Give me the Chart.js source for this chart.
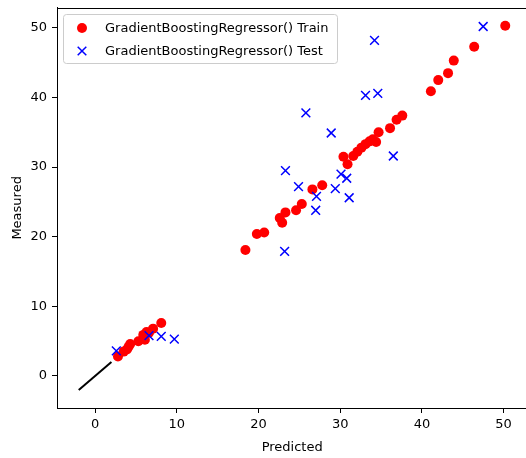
<!DOCTYPE html>
<html>
<head>
<meta charset="utf-8">
<script src="https://cdn.jsdelivr.net/npm/chart.js@4.4.1/dist/chart.umd.min.js"></script>
<style>
  html, body { margin: 0; padding: 0; background: #fff; overflow: hidden; width: 526px; height: 458px; }
  #wrap { width: 535px; height: 458px; }
</style>
</head>
<body>
<div id="wrap"><canvas id="c" width="535" height="458"></canvas></div>
<script>
// ---- data ----
const trainLabel = "GradientBoostingRegressor() Train";
const testLabel = "GradientBoostingRegressor() Test";

const trainPred = [2.8, 3.5, 3.9, 4.1, 4.3, 5.3, 5.9, 6.1, 6.3, 6.6, 7.1, 8.1,
  18.4, 19.8, 20.7, 22.6, 22.9, 23.3, 24.6, 25.3, 26.6, 27.8,
  30.4, 30.9, 31.6, 32.1, 32.6, 33.1, 33.6, 34.0, 34.4, 34.7,
  36.1, 36.9, 37.6, 41.1, 42.0, 43.2, 43.9, 46.4, 50.2];
const trainMeas = [2.8, 3.5, 3.8, 4.2, 4.6, 5.0, 5.9, 5.2, 6.3, 6.2, 6.8, 7.6,
  18.1, 20.4, 20.6, 22.7, 22.0, 23.5, 23.8, 24.7, 26.8, 27.4,
  31.5, 30.4, 31.6, 32.2, 32.8, 33.3, 33.7, 34.0, 33.6, 35.0,
  35.6, 36.8, 37.4, 40.9, 42.5, 43.5, 45.3, 47.3, 50.3];

const testPred = [2.6, 6.6, 8.1, 9.7, 23.2, 23.3, 24.9, 25.8, 27.1, 27.0,
  28.9, 29.4, 30.1, 30.8, 31.1, 33.1, 34.2, 34.6, 36.5, 47.5];
const testMeas = [3.6, 5.8, 5.7, 5.3, 17.9, 29.5, 27.2, 37.8, 25.8, 23.8,
  34.9, 26.9, 29.0, 28.4, 25.6, 40.3, 48.2, 40.6, 31.6, 50.2];

const lineX = [-2, 2];
const lineY = [-2, 2];

const xTicks = [0, 10, 20, 30, 40, 50];
const yTicks = [0, 10, 20, 30, 40, 50];

const zip = (xs, ys) => xs.map((x, i) => ({ x: x, y: ys[i] }));

const FONT = "'DejaVu Sans', sans-serif";
Chart.defaults.font.family = FONT;
Chart.defaults.font.size = 13;
Chart.defaults.color = '#000';

const framePlugin = {
  id: 'frame',
  afterDatasetsDraw(chart) {
    const { ctx, chartArea: a } = chart;
    ctx.save();
    ctx.strokeStyle = '#000';
    ctx.lineWidth = 1;
    ctx.strokeRect(Math.round(a.left) + 0.5, Math.round(a.top) + 0.5,
                   Math.round(a.right - a.left), Math.round(a.bottom - a.top));
    ctx.restore();
  },
  afterDraw(chart) {
    const { ctx } = chart;
    const ds = chart.data.datasets;
    ctx.save();
    const bx = 63.5, by = 14.5, bw = 274, bh = 49, r = 3;
    ctx.beginPath();
    ctx.moveTo(bx + r, by);
    ctx.lineTo(bx + bw - r, by);
    ctx.arcTo(bx + bw, by, bx + bw, by + r, r);
    ctx.lineTo(bx + bw, by + bh - r);
    ctx.arcTo(bx + bw, by + bh, bx + bw - r, by + bh, r);
    ctx.lineTo(bx + r, by + bh);
    ctx.arcTo(bx, by + bh, bx, by + bh - r, r);
    ctx.lineTo(bx, by + r);
    ctx.arcTo(bx, by, bx + r, by, r);
    ctx.closePath();
    ctx.fillStyle = 'rgba(255,255,255,0.8)';
    ctx.fill();
    ctx.strokeStyle = '#cccccc';
    ctx.lineWidth = 1;
    ctx.stroke();
    const mx = 82;
    ctx.fillStyle = ds[0].backgroundColor;
    ctx.beginPath();
    ctx.arc(mx, 28, 5, 0, Math.PI * 2);
    ctx.fill();
    const s = 4.3;
    ctx.strokeStyle = ds[1].borderColor;
    ctx.lineWidth = 1.5;
    ctx.beginPath();
    ctx.moveTo(mx - s, 51 - s); ctx.lineTo(mx + s, 51 + s);
    ctx.moveTo(mx - s, 51 + s); ctx.lineTo(mx + s, 51 - s);
    ctx.stroke();
    ctx.fillStyle = '#000';
    ctx.font = "13px " + FONT;
    ctx.textBaseline = 'middle';
    ctx.textAlign = 'left';
    ctx.fillText(ds[0].label, 105, 29);
    ctx.fillText(ds[1].label, 105, 52);
    ctx.restore();
  }
};

new Chart(document.getElementById('c'), {
  type: 'scatter',
  data: {
    datasets: [
      { label: trainLabel, data: zip(trainPred, trainMeas), backgroundColor: '#ff0000', borderColor: '#ff0000',
        pointStyle: 'circle', pointRadius: 5, borderWidth: 0, order: 2 },
      { label: testLabel, data: zip(testPred, testMeas), backgroundColor: '#0000ff', borderColor: '#0000ff',
        pointStyle: 'crossRot', pointRadius: 6.2, borderWidth: 1.5, order: 1 },
      { label: 'line', data: zip(lineX, lineY), showLine: true, borderColor: '#000', borderWidth: 2, pointRadius: 0, order: 0 }
    ]
  },
  options: {
    responsive: false,
    animation: false,
    devicePixelRatio: 1,
    layout: { padding: { top: 7, right: 3, left: 0, bottom: 0 } },
    plugins: { legend: { display: false }, tooltip: { enabled: false } },
    scales: {
      x: {
        type: 'linear', min: -4.66, max: 52.9,
        afterBuildTicks(scale) { scale.ticks = xTicks.map(v => ({ value: v })); },
        afterFit(scale) { scale.height = 50; scale.paddingLeft = 0; scale.paddingRight = 0; },
        grid: { drawOnChartArea: false, drawTicks: true, tickLength: 5, color: '#000', lineWidth: 1 },
        border: { display: true, color: '#000', width: 1 },
        ticks: { padding: 4, color: '#000', font: { size: 13 }, maxRotation: 0 },
        title: { display: true, text: 'Predicted', color: '#000', font: { size: 13 }, padding: { top: 0, bottom: 3 } }
      },
      y: {
        type: 'linear', min: -4.6, max: 52.9,
        afterBuildTicks(scale) { scale.ticks = yTicks.map(v => ({ value: v })); },
        afterFit(scale) { scale.width = 57; scale.paddingTop = 0; scale.paddingBottom = 0; },
        grid: { drawOnChartArea: false, drawTicks: true, tickLength: 5, color: '#000', lineWidth: 1 },
        border: { display: true, color: '#000', width: 1 },
        ticks: { padding: 5, color: '#000', font: { size: 13 } },
        title: { display: true, text: 'Measured', color: '#000', font: { size: 13 }, padding: { top: 10, bottom: 0 } }
      }
    }
  },
  plugins: [framePlugin]
});
</script>
</body>
</html>
